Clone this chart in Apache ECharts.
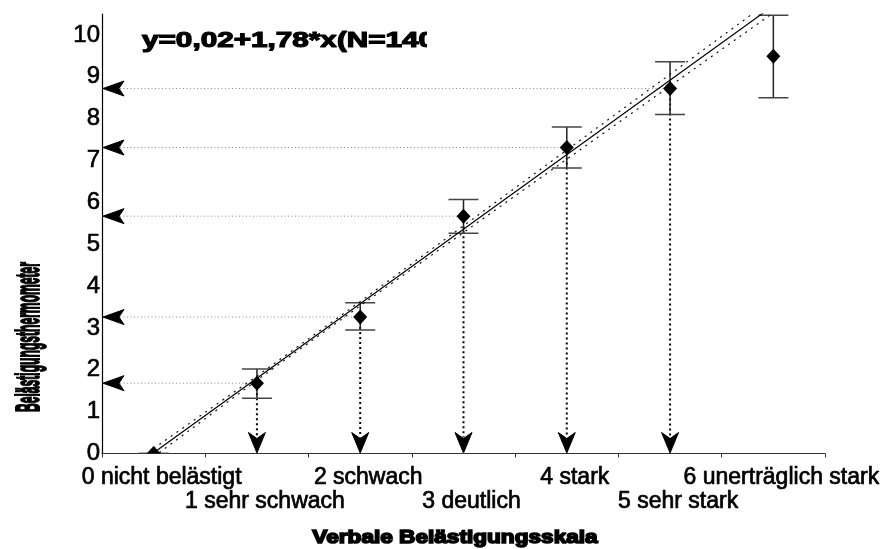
<!DOCTYPE html>
<html>
<head>
<meta charset="utf-8">
<script src="https://cdn.jsdelivr.net/npm/echarts@6/dist/echarts.min.js"></script>
<style>
  html, body { margin: 0; padding: 0; background: #fff; }
  #chart { width: 884px; height: 549px; }
</style>
</head>
<body>
<div id="chart"></div>
<script>
// Verbal annoyance scale categories (x) and their tick labels
const levels = [0, 1, 2, 3, 4, 5, 6];
const levelLabels = ['0 nicht belästigt', '1 sehr schwach', '2 schwach', '3 deutlich',
                     '4 stark', '5 sehr stark', '6 unerträglich stark'];

// Mean thermometer value per category with the ends of its error bar
const means    = [0.00, 1.68, 3.26, 5.67, 7.31, 8.72, 9.49];
const lowerErr = [0.00, 1.32, 2.95, 5.26, 6.82, 8.10, 8.50];
const upperErr = [0.00, 2.02, 3.60, 6.07, 7.80, 9.36, 10.47];

// Categories that get guide arrows to both axes
const guided = [0, 1, 1, 1, 1, 1, 0];

// Regression y = 0,02 + 1,78 * x (N = 140)
const intercept = 0.02;
const slope = 1.78;
const sampleSize = 140;

// Confidence band around the regression line
const bandX     = [0, 1, 2, 3, 4, 5, 6];
const bandUpper = [0.12, 1.85, 3.63, 5.44, 7.25, 9.06, 10.87];
const bandLower = [-0.08, 1.75, 3.53, 5.28, 7.03, 8.78, 10.53];

const FONT = '"Liberation Sans", Arial, sans-serif';
const xEnd = 6.5;

const levelData = levels.map((x, i) => [x, means[i], lowerErr[i], upperErr[i], guided[i]]);

function renderLevel(params, api) {
  const x = api.value(0);
  const p = api.coord([x, api.value(1)]);
  const pLo = api.coord([x, api.value(2)]);
  const pHi = api.coord([x, api.value(3)]);
  const base = api.coord([x, 0]);
  const cs = params.coordSys;
  const children = [];

  if (api.value(4)) {
    // dotted guide to the thermometer axis
    children.push({
      type: 'line',
      shape: { x1: cs.x + 18, y1: p[1], x2: p[0] - 7, y2: p[1] },
      style: { stroke: '#8c8c8c', lineWidth: 1, lineDash: [1, 2.5] }
    });
    // dotted guide down to the category axis
    children.push({
      type: 'line',
      shape: { x1: p[0], y1: p[1], x2: p[0], y2: base[1] - 16 },
      style: { stroke: '#000', lineWidth: 2, lineDash: [2, 3] }
    });
    // arrow head on the y axis
    children.push({
      type: 'polygon',
      shape: { points: [[cs.x + 1, p[1]], [cs.x + 22, p[1] - 7.5], [cs.x + 17, p[1]], [cs.x + 22, p[1] + 7.5]] },
      style: { fill: '#000', stroke: '#000', lineWidth: 1, lineJoin: 'miter' }
    });
    // arrow head on the x axis
    children.push({
      type: 'polygon',
      shape: { points: [[base[0], base[1] - 0.5], [base[0] - 8.5, base[1] - 21], [base[0], base[1] - 15], [base[0] + 8.5, base[1] - 21]] },
      style: { fill: '#000', stroke: '#000', lineWidth: 1, lineJoin: 'miter' }
    });
  }

  // error bar with caps
  const capStyle = { stroke: '#444', lineWidth: 1.5 };
  children.push({ type: 'line', shape: { x1: p[0], y1: pHi[1], x2: p[0], y2: pLo[1] }, style: { stroke: '#222', lineWidth: 1.5 } });
  children.push({ type: 'line', shape: { x1: p[0] - 15, y1: pHi[1], x2: p[0] + 15, y2: pHi[1] }, style: capStyle });
  children.push({ type: 'line', shape: { x1: p[0] - 15, y1: pLo[1], x2: p[0] + 15, y2: pLo[1] }, style: capStyle });

  // diamond marker for the mean
  children.push({
    type: 'polygon',
    shape: { points: [[p[0], p[1] - 7.5], [p[0] + 7, p[1]], [p[0], p[1] + 7.5], [p[0] - 7, p[1]]] },
    style: { fill: '#000' }
  });

  return { type: 'group', children };
}

const chart = echarts.init(document.getElementById('chart'), null, { renderer: 'canvas' });

chart.setOption({
  animation: false,
  backgroundColor: '#fff',
  grid: { left: 102, right: 59, top: 14, bottom: 95.5, containLabel: false },
  xAxis: [
    {
      type: 'category',
      data: levelLabels,
      boundaryGap: true,
      axisLine: { onZero: false, lineStyle: { color: '#333', width: 1 } },
      axisTick: { show: true, length: 4, lineStyle: { color: '#333' } },
      splitLine: { show: false },
      axisLabel: {
        interval: 0,
        fontFamily: FONT,
        fontSize: 23,
        lineHeight: 24,
        color: '#000',
        textBorderColor: '#000',
        textBorderWidth: 0.7,
        margin: 12,
        padding: [0, 0, 0, 16],
        formatter: (v, i) => (i % 2 ? '\n' + v : v)
      }
    },
    { type: 'value', min: -0.5, max: xEnd, show: false }
  ],
  yAxis: {
    type: 'value',
    min: 0,
    max: 10.5,
    interval: 1,
    axisLine: { show: true, onZero: false, lineStyle: { color: '#000', width: 1.2 } },
    axisTick: { show: false },
    splitLine: { show: false },
    axisLabel: {
      fontFamily: FONT, fontSize: 24, color: '#000', margin: 2, showMaxLabel: false,
      textBorderColor: '#000', textBorderWidth: 0.6
    }
  },
  series: [
    {
      name: 'Band oben',
      type: 'line',
      xAxisIndex: 1,
      data: bandX.map((x, i) => [x, bandUpper[i]]),
      symbol: 'none',
      clip: true,
      silent: true,
      lineStyle: { color: '#111', width: 1.2, type: [2, 5] }
    },
    {
      name: 'Band unten',
      type: 'line',
      xAxisIndex: 1,
      data: bandX.map((x, i) => [x, bandLower[i]]),
      symbol: 'none',
      clip: true,
      silent: true,
      lineStyle: { color: '#111', width: 1.2, type: [2, 5] }
    },
    {
      name: 'Regression',
      type: 'line',
      xAxisIndex: 1,
      data: [[0, intercept], [xEnd, intercept + slope * xEnd]],
      symbol: 'none',
      clip: true,
      silent: true,
      lineStyle: { color: '#000', width: 1.2 }
    },
    {
      name: 'Mittelwerte',
      type: 'custom',
      xAxisIndex: 1,
      data: levelData,
      encode: { x: 0, y: 1 },
      clip: true,
      silent: true,
      renderItem: renderLevel
    }
  ],
  graphic: [
    {
      type: 'text', x: 142, y: 41, scaleX: 1.35, z: 5,
      style: {
        text: 'y=0,02+1,78*x(N=' + sampleSize + ')',
        font: 'bold 22px ' + FONT, fill: '#000', stroke: '#000', lineWidth: 1.2,
        align: 'left', verticalAlign: 'middle'
      }
    },
    { type: 'rect', z: 6, shape: { x: 427, y: 22, width: 40, height: 40 }, style: { fill: '#fff' } },
    {
      type: 'text', x: 455, y: 538, scaleX: 1.19, z: 5,
      style: {
        text: 'Verbale Belästigungsskala',
        font: 'bold 19px ' + FONT, fill: '#000', stroke: '#000', lineWidth: 1.6,
        align: 'center', verticalAlign: 'middle'
      }
    },
    {
      type: 'text', x: 30, y: 337, rotation: Math.PI / 2, scaleX: 0.356, z: 5,
      style: {
        text: 'Belästigungsthermometer',
        font: 'bold 34px ' + FONT, fill: '#000', stroke: '#000', lineWidth: 2,
        align: 'center', verticalAlign: 'middle'
      }
    }
  ]
});
</script>
</body>
</html>
